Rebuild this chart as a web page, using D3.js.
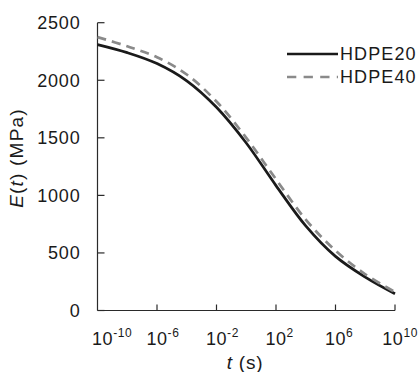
<!DOCTYPE html>
<html>
<head>
<meta charset="utf-8">
<script src="https://cdn.jsdelivr.net/npm/d3@7"></script>
<style>
  html, body { margin: 0; padding: 0; background: #fff; }
  svg { display: block; }
  text { font-family: "Liberation Sans", Arial, sans-serif; fill: #1a1a1a; }
</style>
</head>
<body>
<svg id="chart" width="420" height="372"></svg>
<script>
// ---- data ----
const logT = [-10, -8, -6, -4, -2, 0, 2, 4, 6, 8, 10];          // log10 of t (s)
const hdpe20 = [2310, 2240, 2145, 1995, 1765, 1455, 1085, 735, 470, 290, 145]; // MPa
const hdpe40 = [2375, 2295, 2200, 2050, 1815, 1500, 1140, 790, 520, 315, 160]; // MPa
const xTickExps = [-10, -6, -2, 2, 6, 10];
const yTicks = [0, 500, 1000, 1500, 2000, 2500];
const seriesNames = ["HDPE20", "HDPE40"];

const svg = d3.select("#chart");
const pLeft = 97.5, pRight = 395, pTop = 22.7, pBottom = 310.5;

const x = d3.scaleLog().domain([1e-10, 1e10]).range([pLeft, pRight]);
const y = d3.scaleLinear().domain([0, 2500]).range([pBottom, pTop]);

const axisColor = "#2a2a2a";

// axes lines
svg.append("line").attr("x1", pLeft).attr("x2", pLeft).attr("y1", pTop).attr("y2", pBottom)
  .attr("stroke", axisColor).attr("stroke-width", 1.2);
svg.append("line").attr("x1", pLeft).attr("x2", pRight).attr("y1", pBottom).attr("y2", pBottom)
  .attr("stroke", axisColor).attr("stroke-width", 1.2);

// y ticks (inward)
const yAxis = svg.append("g");
yAxis.selectAll("line").data(yTicks).join("line")
  .attr("x1", pLeft).attr("x2", pLeft + 7)
  .attr("y1", d => y(d)).attr("y2", d => y(d))
  .attr("stroke", axisColor).attr("stroke-width", 1.2);
yAxis.selectAll("text").data(yTicks).join("text")
  .attr("x", pLeft - 17).attr("y", d => y(d)).attr("dy", "0.36em")
  .attr("text-anchor", "end").attr("font-size", 18).attr("letter-spacing", 0.8)
  .text(d => d);

// x ticks (inward)
const xAxis = svg.append("g");
xAxis.selectAll("line").data(xTickExps.filter(e => x(Math.pow(10, e)) > pLeft + 1)).join("line")
  .attr("x1", d => x(Math.pow(10, d))).attr("x2", d => x(Math.pow(10, d)))
  .attr("y1", pBottom).attr("y2", pBottom - 6)
  .attr("stroke", axisColor).attr("stroke-width", 1.2);

const labels = xAxis.selectAll("text").data(xTickExps).join("text")
  .attr("y", 345).attr("font-size", 18).attr("letter-spacing", 0.6);
labels.append("tspan").text("10");
labels.append("tspan").attr("font-size", 12).attr("dy", -8).text(d => d);
labels.each(function(d) {
  const t = d3.select(this);
  const w = this.getComputedTextLength();
  const baseW = this.firstChild.getComputedTextLength();
  let sx = x(Math.pow(10, d)) - baseW / 2;
  sx = Math.max(sx, 92);
  sx = Math.min(sx, 418 - w);
  t.attr("x", sx);
});

// axis titles
svg.append("text").attr("x", 245).attr("y", 369).attr("text-anchor", "middle")
  .attr("font-size", 19).attr("letter-spacing", 0.8)
  .html('<tspan font-style="italic">t</tspan> (s)');
svg.append("text").attr("transform", "translate(23,158) rotate(-90)")
  .attr("text-anchor", "middle").attr("font-size", 19).attr("letter-spacing", 1.2)
  .html('<tspan font-style="italic">E</tspan>(<tspan font-style="italic">t</tspan>) (MPa)');

// curves
const line = d3.line().x(d => x(Math.pow(10, d[0]))).y(d => y(d[1])).curve(d3.curveCatmullRom.alpha(0.5));
const styles = [
  { color: "#1a1a1a", dash: null },
  { color: "#8a8a8a", dash: "9,6" }
];
[hdpe20, hdpe40].forEach((vals, i) => {
  svg.append("path")
    .datum(logT.map((t, j) => [t, vals[j]]))
    .attr("d", line)
    .attr("fill", "none")
    .attr("stroke", styles[i].color)
    .attr("stroke-width", 2.7)
    .attr("stroke-dasharray", styles[i].dash);
});

// legend
const legY = [54, 77];
seriesNames.forEach((name, i) => {
  svg.append("line").attr("x1", 287).attr("x2", 338).attr("y1", legY[i]).attr("y2", legY[i])
    .attr("stroke", styles[i].color).attr("stroke-width", 2.4)
    .attr("stroke-dasharray", styles[i].dash ? "9.3,7.3" : null);
  svg.append("text").attr("x", 340).attr("y", legY[i]).attr("dy", "0.36em")
    .attr("font-size", 18).attr("letter-spacing", 1.1).text(name);
});
</script>
</body>
</html>
